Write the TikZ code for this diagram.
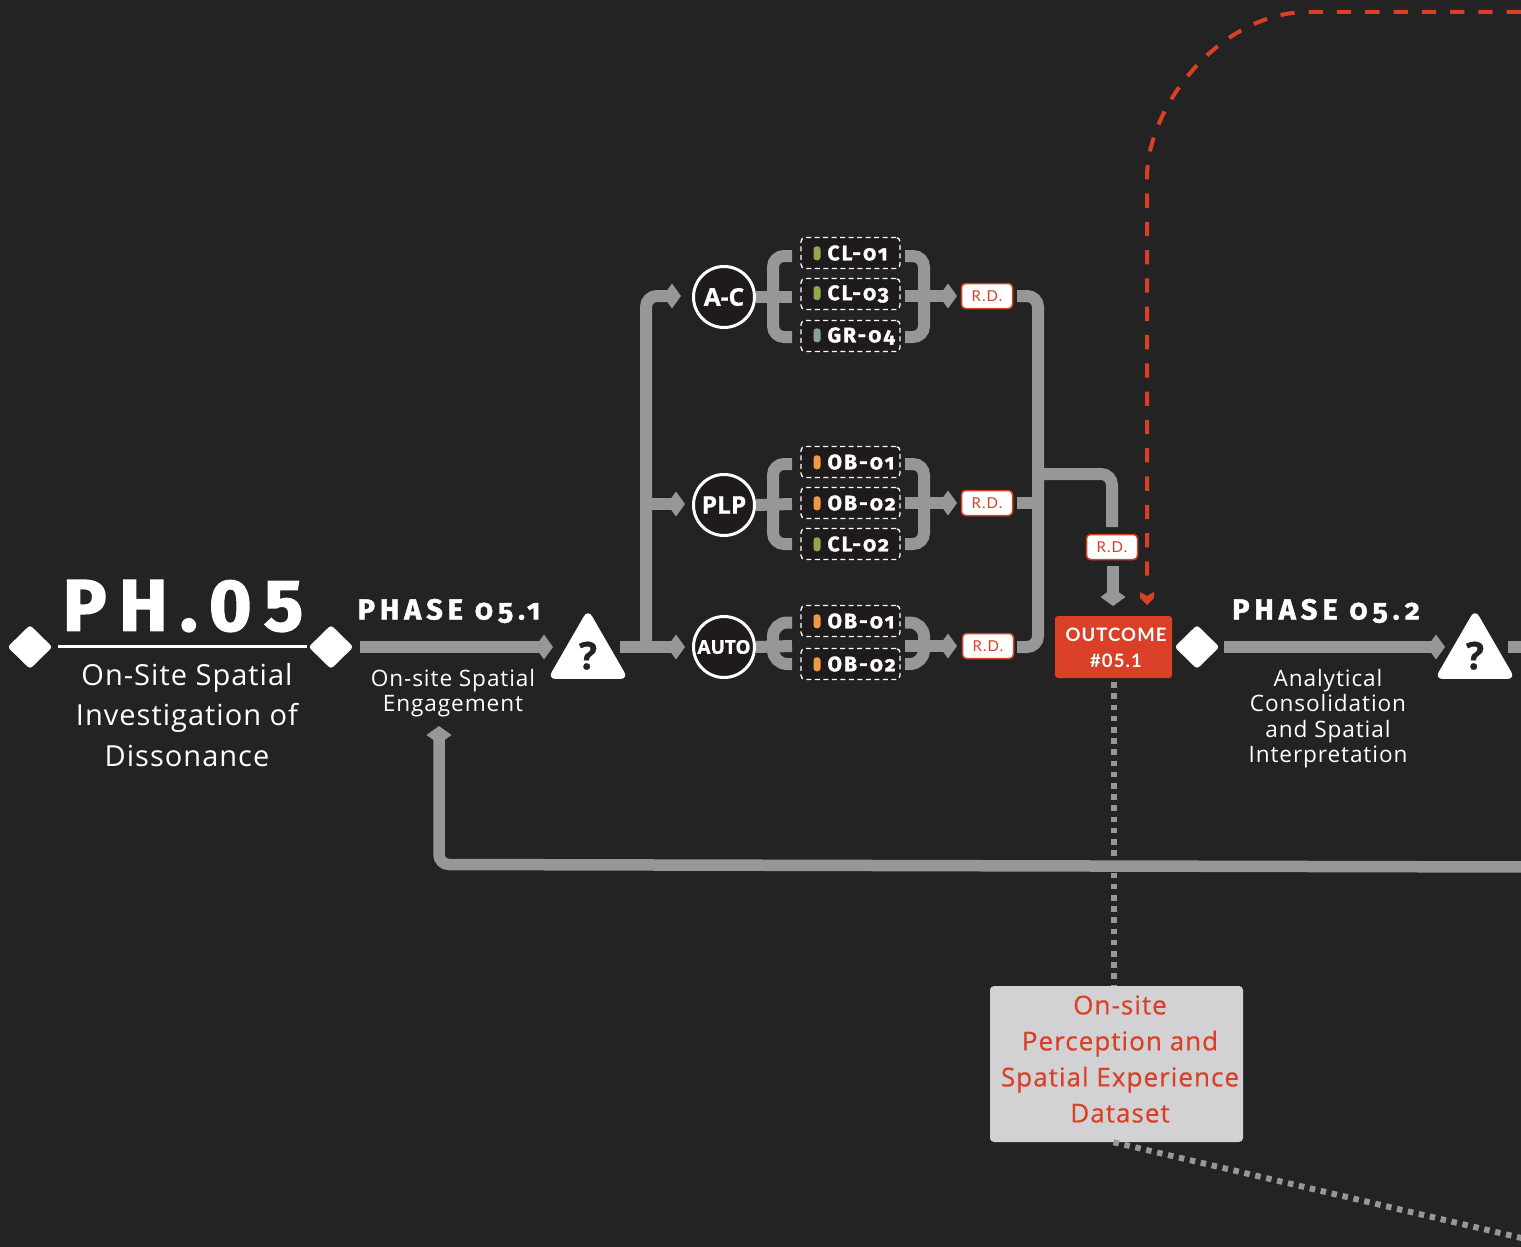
\documentclass[tikz,border=0pt]{standalone}
\usepackage{fontspec}
\usepackage{tikz}
\usetikzlibrary{arrows.meta,shapes.geometric}
\setmainfont[LetterSpace=3.5]{Open Sans}
\newfontfamily\headfont[LetterSpace=17,Numbers=OldStyle,BoldFeatures={FakeBold=1.5}]{Fira Sans}
\newfontfamily\bigfont[LetterSpace=17,BoldFeatures={FakeBold=2}]{Fira Sans}
\newfontfamily\codefont[LetterSpace=10,Numbers=OldStyle,BoldFeatures={FakeBold=1.5}]{Fira Sans}
\newfontfamily\actorfont[BoldFeatures={FakeBold=0.8}]{Open Sans}
\newfontfamily\tagfont[LetterSpace=7]{Lato}
\newfontfamily\outfont[LetterSpace=6]{Lato}
\newfontfamily\descfont[LetterSpace=4]{Open Sans}
\newfontfamily\datafont[LetterSpace=4,FakeBold=0.5]{Open Sans}
\definecolor{bgdark}{HTML}{232323}
\definecolor{flowgray}{HTML}{979798}
\definecolor{alertred}{HTML}{D94027}
\definecolor{boxdark}{HTML}{1F1B1C}
\definecolor{paleset}{HTML}{D2D2D4}
\definecolor{tagolive}{HTML}{8FA84F}
\definecolor{tagorange}{HTML}{EE9A45}
\definecolor{taggreen}{HTML}{84A596}
\newcommand{\tagged}[2]{\makebox[74pt][l]{\tikz[baseline=-7pt]\fill[#1,rounded corners=3pt] (0,-7) rectangle (7,7);\hspace{7pt}{\codefont\bfseries #2}}}
\begin{document}
\begin{tikzpicture}[x=1pt, y=-1pt, >={Kite[length=18pt,width=25pt,inset=9pt]}, line cap=butt,
    flow/.style={draw=flowgray, line width=12pt, rounded corners=11pt},
    loopback/.style={draw=flowgray, line width=11.5pt, rounded corners=10pt},
    dotline/.style={draw=flowgray, line width=6pt, dash pattern=on 5.5pt off 5.7pt},
    redline/.style={draw=alertred, line width=4pt, dash pattern=on 14.3pt off 14pt},
    gate/.style={shape=diamond, fill=white, rounded corners=3pt, minimum width=45pt, minimum height=44pt, inner sep=0pt},
    check/.style={regular polygon, regular polygon sides=3, fill=white, rounded corners=8pt, minimum size=93pt, inner sep=0pt, font=\actorfont\fontsize{38}{38}\selectfont\bfseries, text=bgdark},
    actor/.style={circle, draw=white, line width=3pt, fill=boxdark, minimum size=61pt, inner sep=0pt, text=white, font=\actorfont\bfseries\fontsize{24.5}{24.5}\selectfont},
    code/.style={draw=white, line width=1.3pt, dash pattern=on 5pt off 3.5pt, rounded corners=4pt, fill=boxdark, minimum width=99pt, minimum height=31pt, inner sep=0pt, text=white, font=\fontsize{21}{21}\selectfont},
    rd/.style={draw=alertred, line width=1.5pt, fill=white, rounded corners=4pt, minimum width=51pt, minimum height=25pt, inner sep=0pt, text=alertred, font=\tagfont\fontsize{15}{15}\selectfont},
    phase/.style={text=white, font=\headfont\bfseries\fontsize{29}{29}\selectfont},
    descr/.style={text=white, align=center, font=\descfont\fontsize{22.6}{25.5}\selectfont}]

\fill[bgdark] (0,0) rectangle (1521,1247);
\useasboundingbox (0,0) rectangle (1521,1247);

\coordinate (redstart) at (1549.3,12);
\coordinate (redbend) at (1308,12);
\coordinate (backstart) at (1530,867);
\coordinate (backbend) at (439,864.5);
\coordinate (backtip) at (439,726);
\coordinate (dotend) at (1530,1240);
\coordinate (stubend) at (1530,647);
\coordinate (ask1in) at (553,647);
\coordinate (ask2in) at (1445,647);

\node[gate] (gate0) at (30,647) {};
\node[gate] (gate1) at (331,647) {};
\node[gate] (gate2) at (1197,647) {};
\node[text=white, font=\bigfont\bfseries\fontsize{73}{73}\selectfont] (title) at (183,606) {PH.05};
\node[text=white, align=center, font=\fontsize{29}{40.5}\selectfont] (titletext) at (187,715) {On-Site Spatial\\Investigation of\\Dissonance};

\node[phase] (phase1) at (449,611) {PHASE 05.1};
\node[phase] (phase2) at (1326,611) {PHASE 05.2};
\node[descr] (phase1text) at (453,693) {On-site Spatial\\Engagement};
\node[descr] (phase2text) at (1328,718.5) {Analytical\\Consolidation\\and Spatial\\Interpretation};

\node[check] (ask1) at (588,655.7) {?};
\node[check] (ask2) at (1475,655.7) {?};

\node[actor] (ac) at (724,297) {A-C};
\node[actor] (plp) at (724,505) {PLP};
\node[actor, font=\actorfont\bfseries\fontsize{19}{19}\selectfont] (auto) at (724,647) {AUTO};

\node[code] (cl01) at (850.5,253) {\tagged{tagolive}{CL-01}};
\node[code] (cl03) at (850.5,294) {\tagged{tagolive}{CL-03}};
\node[code] (gr04) at (850.5,336) {\tagged{taggreen}{GR-04}};
\node[code] (ob01) at (850.5,462) {\tagged{tagorange}{OB-01}};
\node[code] (ob02) at (850.5,503) {\tagged{tagorange}{OB-02}};
\node[code] (cl02) at (850.5,544) {\tagged{tagolive}{CL-02}};
\node[code] (ob03) at (850.5,621) {\tagged{tagorange}{OB-01}};
\node[code] (ob04) at (850.5,664) {\tagged{tagorange}{OB-02}};

\node[rd] (rd1) at (987,296) {R.D.};
\node[rd] (rd2) at (987,503) {R.D.};
\node[rd] (rd3) at (988,646) {R.D.};
\node[rd] (rd4) at (1112,547) {R.D.};

\node[fill=alertred, rounded corners=3pt, minimum width=117pt, minimum height=62pt, inner sep=0pt] (outcome) at (1113.5,647) {};
\node[text=white, align=center, font=\outfont\bfseries\fontsize{18.5}{26}\selectfont] (outcometext) at (1116,648) {OUTCOME\\\#05.1};
\node[fill=paleset, rounded corners=4pt, minimum width=253pt, minimum height=156pt, inner sep=0pt] (dataset) at (1116.5,1064) {};
\node[text=alertred, align=center, font=\datafont\fontsize{26}{36}\selectfont] (datasettext) at (1120,1059) {On-site\\Perception and\\Spatial Experience\\Dataset};

% phase arrows
\draw[flow, ->] ([xshift=6.5pt]gate1.east) -- (ask1in);
\draw[flow, ->] ([xshift=4.5pt]gate2.east) -- (ask2in);
\draw[flow] (1508,647) -- (stubend);

% trunk to the three groups
\draw[flow, ->] (620,647) -- (685,647);
\draw[flow, ->] (646,647) -- (646,296) -- (681,296);
\draw[flow, ->] (646,504) -- (685,504);

% brackets A-C
\draw[flow] (792,256) -- (773,256) -- (773,337) -- (792,337);
\draw[flow] (ac.east) -- (792,297);
\draw[flow] (905,256) -- (924,256) -- (924,337) -- (905,337);
\draw[flow, ->] (905,296) -- (957,296);
% brackets PLP
\draw[flow] (792,464) -- (773,464) -- (773,544) -- (792,544);
\draw[flow] (plp.east) -- (792,504);
\draw[flow] (905,464) -- (924,464) -- (924,544) -- (905,544);
\draw[flow, ->] (905,503) -- (957,503);
% brackets AUTO
\draw[flow, rounded corners=14pt] (792,622.5) -- (773,622.5) -- (773,664) -- (792,664);
\draw[flow] (auto.east) -- (792,646);
\draw[flow, rounded corners=14pt] (905,622.5) -- (924,622.5) -- (924,664) -- (905,664);
\draw[flow, ->] (905,646) -- (957,646);

% results into the outcome
\draw[flow] (1017,296) -- (1038,296) -- (1038,647) -- (1017,647);
\draw[flow] (1017,503) -- (1038,503);
\draw[flow] (1038,474) -- (1112,474) -- (1112,527);
\draw[flow, ->] (1113,566) -- (1113,606);

% red return
\draw[redline] (redstart) -- (redbend) .. controls (1222,12) and (1147,104) .. (1147,178) -- (1147,580);
\fill[alertred] (1140,592) -- (1147,596) -- (1154,592) -- (1154,598) -- (1147,605) -- (1140,598) -- cycle;

% dataset link and the way back
\draw[loopback, ->] (backstart) -- (backbend) -- (backtip);
\draw[dotline] (outcome.south) ++(0,4) -- (dataset.north -| outcome.south);
\draw[dotline] (dataset.south -| outcome.south) -- (dotend);

\draw[white, line width=3pt] (58,646) -- (307,646);
\end{tikzpicture}
\end{document}
